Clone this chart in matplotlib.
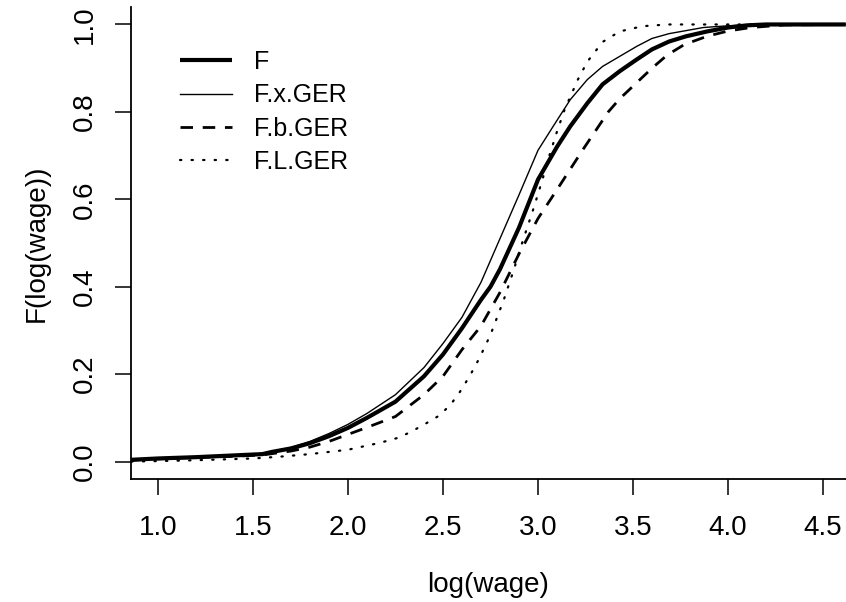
import matplotlib
matplotlib.use("Agg")
import matplotlib.pyplot as plt

plt.rcParams["font.family"] = ["Liberation Sans", "DejaVu Sans"]

x_F = [0.86, 1.0, 1.2, 1.4, 1.55, 1.6, 1.7, 1.8, 1.9, 2.0, 2.1, 2.25, 2.4, 2.5, 2.6,
       2.7, 2.75, 2.8, 2.9, 3.0, 3.1, 3.17, 3.26, 3.34, 3.43, 3.52, 3.6, 3.69, 3.78,
       3.89, 4.0, 4.1, 4.2, 4.62]
F = [0.004, 0.007, 0.010, 0.014, 0.017, 0.022, 0.030, 0.042, 0.058, 0.077, 0.100,
     0.137, 0.195, 0.245, 0.305, 0.37, 0.40, 0.44, 0.535, 0.645, 0.72, 0.767, 0.82,
     0.863, 0.893, 0.92, 0.943, 0.961, 0.973, 0.984, 0.993, 0.998, 1.0, 1.0]

x_Fx = [0.86, 1.0, 1.2, 1.4, 1.55, 1.6, 1.7, 1.8, 1.9, 2.0, 2.1, 2.25, 2.4, 2.5, 2.6,
        2.7, 2.75, 2.8, 2.9, 3.0, 3.08, 3.17, 3.26, 3.34, 3.43, 3.52, 3.6, 3.69, 3.78,
        3.87, 4.0, 4.1, 4.2, 4.62]
F_x_GER = [0.004, 0.007, 0.010, 0.014, 0.017, 0.023, 0.032, 0.046, 0.064, 0.085,
           0.11, 0.153, 0.215, 0.27, 0.33, 0.41, 0.46, 0.51, 0.61, 0.712, 0.767,
           0.828, 0.874, 0.904, 0.927, 0.95, 0.968, 0.979, 0.986, 0.993, 0.997,
           0.999, 1.0, 1.0]

x_Fb = [0.86, 1.0, 1.2, 1.4, 1.55, 1.6, 1.7, 1.8, 1.9, 2.0, 2.1, 2.25, 2.4, 2.5, 2.6,
        2.7, 2.8, 2.9, 3.0, 3.1, 3.24, 3.37, 3.43, 3.52, 3.6, 3.68, 3.77, 3.89, 4.0,
        4.12, 4.3, 4.62]
F_b_GER = [0.003, 0.006, 0.009, 0.012, 0.015, 0.018, 0.024, 0.033, 0.046, 0.062,
           0.078, 0.103, 0.153, 0.195, 0.256, 0.31, 0.387, 0.475, 0.556, 0.622, 0.716,
           0.80, 0.83, 0.867, 0.90, 0.93, 0.954, 0.973, 0.985, 0.993, 0.999, 1.0]

x_FL = [0.86, 1.0, 1.2, 1.5, 1.64, 1.8, 2.0, 2.17, 2.27, 2.34, 2.41, 2.48, 2.54,
        2.59, 2.64, 2.69, 2.75, 2.82, 2.87, 2.92, 2.97, 3.02, 3.06, 3.1, 3.14, 3.21,
        3.26, 3.34, 3.43, 3.55, 3.68, 4.62]
F_L_GER = [0.0, 0.001, 0.003, 0.007, 0.011, 0.017, 0.027, 0.043, 0.055, 0.07,
           0.087, 0.105, 0.13, 0.16, 0.195, 0.235, 0.29, 0.37, 0.435, 0.505, 0.57,
           0.64, 0.70, 0.755, 0.805, 0.874, 0.915, 0.96, 0.984, 0.996, 1.0, 1.0]

x_ticks = [1.0, 1.5, 2.0, 2.5, 3.0, 3.5, 4.0, 4.5]
y_ticks = [0.0, 0.2, 0.4, 0.6, 0.8, 1.0]

fig = plt.figure(figsize=(8.46, 6.02), dpi=100)
ax = fig.add_axes([0.1548, 0.2043, 0.8452, 0.7841])

ax.plot(x_F, F, color="black", lw=3.0, label="F", solid_capstyle="butt")
ax.plot(x_Fx, F_x_GER, color="black", lw=1.0, label="F.x.GER")
ax.plot(x_Fb, F_b_GER, color="black", lw=2.0, dashes=(4.5, 3.5), label="F.b.GER")
ax.plot(x_FL, F_L_GER, color="black", lw=1.6, dashes=(0.6, 4.6),
        dash_capstyle="round", label="F.L.GER")

ax.set_xlim(0.858, 4.621)
ax.set_ylim(-0.04, 1.04)
ax.set_xticks(x_ticks)
ax.set_xticklabels([f"{v:.1f}" for v in x_ticks])
ax.set_yticks(y_ticks)
ax.set_yticklabels([f"{v:.1f}" for v in y_ticks], rotation=90, va="center")

for side in ("top", "right"):
    ax.spines[side].set_visible(False)
for side in ("left", "bottom"):
    ax.spines[side].set_linewidth(1.3)
ax.tick_params(direction="out", length=11.5, width=1.1, labelsize=20)
ax.tick_params(axis="x", pad=14.5)
ax.tick_params(axis="y", pad=12)

ax.set_xlabel("log(wage)", fontsize=20, labelpad=22)
ax.set_ylabel("F(log(wage))", fontsize=20, labelpad=16)

ax.legend(loc="upper left", bbox_to_anchor=(0.054, 0.93), frameon=False, fontsize=18,
          handlelength=2.08, handletextpad=0.9, labelspacing=0.37, borderaxespad=0)

fig.savefig("out.png", dpi=100)
